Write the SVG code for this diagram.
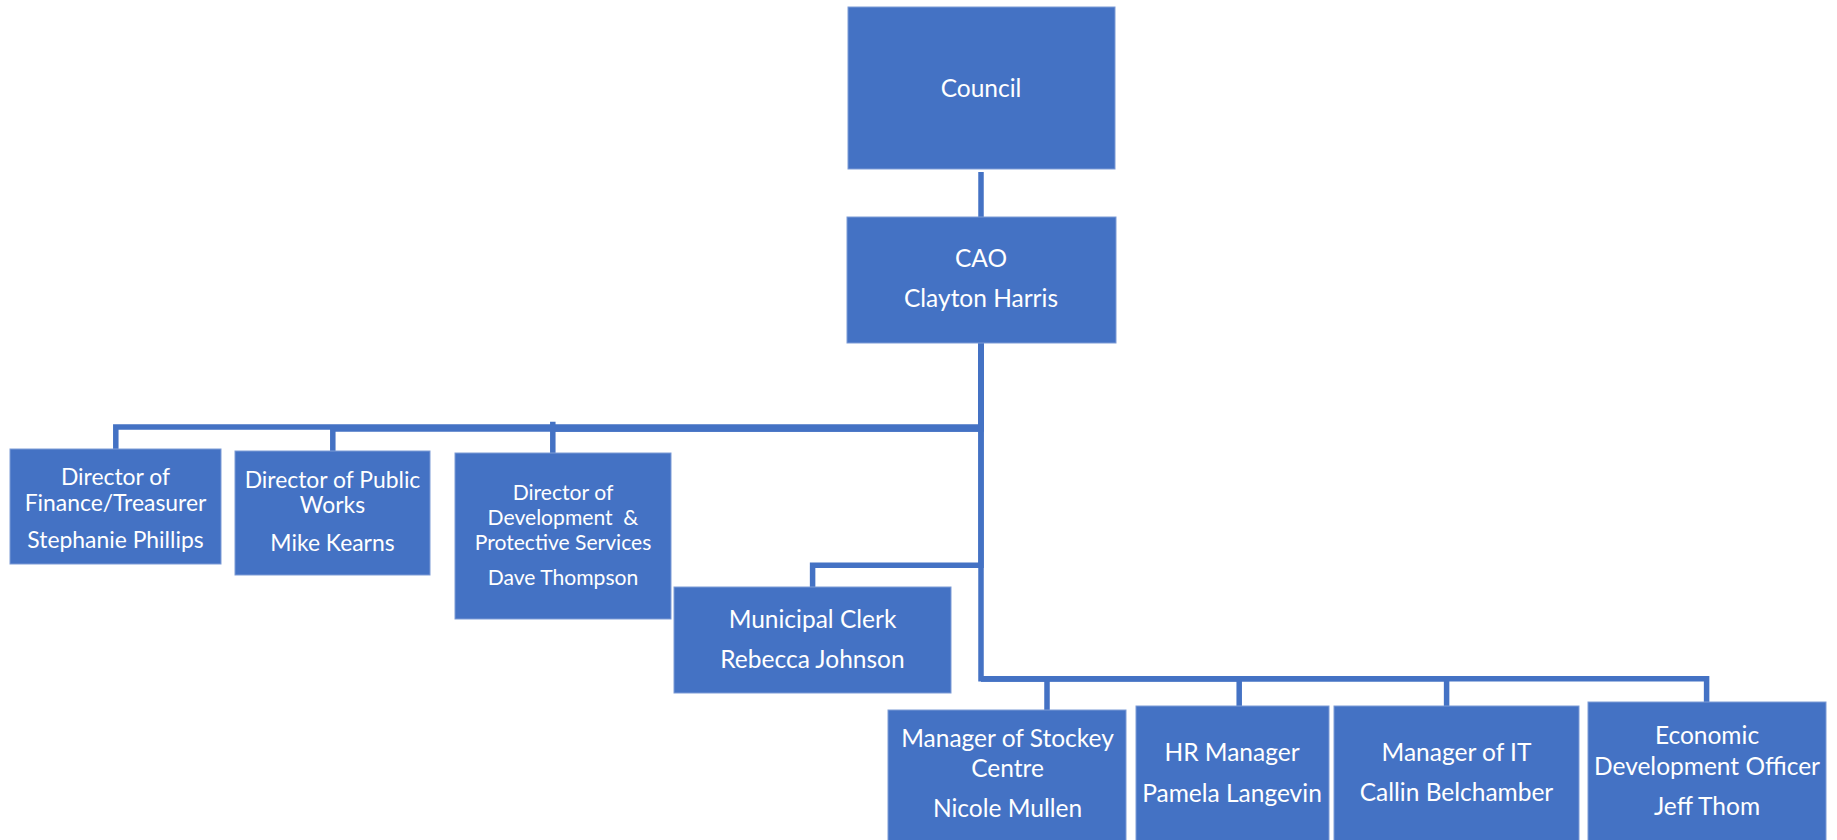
<svg xmlns="http://www.w3.org/2000/svg" width="1837" height="840" viewBox="0 0 1837 840">
<style>
.box{fill:#4472C4;stroke:#7d9bd6;stroke-width:1}
.t{font-family:Lato,"Liberation Sans",Arial,sans-serif;fill:#ffffff;text-anchor:middle;white-space:pre}
.l{font-size:24.5px}
.m{font-size:22.9px}
.s{font-size:21.1px}
.c{fill:none;stroke:#4472C4;stroke-width:5.5;stroke-linejoin:miter;stroke-linecap:butt}
</style>
<rect width="1837" height="840" fill="#ffffff"/>
<g id="connectors">
<path class="c" d="M981,172 V217"/>
<path class="c" d="M981,343 V427 H115.8 V449"/>
<path class="c" d="M981,343 V429 H332.8 V451"/>
<path class="c" d="M981,343 V429 H552.8 M552.8,421.7 V453"/>
<path class="c" d="M981,343 V565.3 H812.6 V587"/>
<path class="c" d="M981,343 V678.8 H1047 V710"/>
<path class="c" d="M981,678.8 H1239.2 V706"/>
<path class="c" d="M981,678.8 H1446.6 V706"/>
<path class="c" d="M981,678.8 H1706.6 V702"/>
</g>
<g id="council">
<rect class="box" x="848" y="7" width="267" height="162"/>
<text class="t l" x="981" y="96.5">Council</text>
</g>
<g id="cao">
<rect class="box" x="847" y="217" width="269" height="126"/>
<text class="t l" x="981" y="267">CAO</text>
<text class="t l" x="981" y="307">Clayton Harris</text>
</g>
<g id="finance">
<rect class="box" x="10" y="449" width="211" height="115"/>
<text class="t m" x="115.5" y="485">Director of</text>
<text class="t m" x="115.5" y="511">Finance/Treasurer</text>
<text class="t m" x="115.5" y="547.7">Stephanie Phillips</text>
</g>
<g id="public-works">
<rect class="box" x="235" y="451" width="195" height="124"/>
<text class="t m" x="332.5" y="488.3">Director of Public</text>
<text class="t m" x="332.5" y="513.3">Works</text>
<text class="t m" x="332.5" y="550.7">Mike Kearns</text>
</g>
<g id="development">
<rect class="box" x="455" y="453" width="216" height="166"/>
<text class="t s" x="563" y="500">Director of</text>
<text class="t s" x="563" y="525">Development  &amp;</text>
<text class="t s" x="563" y="550">Protective Services</text>
<text class="t s" x="563" y="585">Dave Thompson</text>
</g>
<g id="clerk">
<rect class="box" x="674" y="587" width="277" height="106"/>
<text class="t l" x="812.5" y="628.3">Municipal Clerk</text>
<text class="t l" x="812.5" y="668.3">Rebecca Johnson</text>
</g>
<g id="stockey">
<rect class="box" x="888" y="710" width="238" height="140"/>
<text class="t l" x="1007.5" y="747.3">Manager of Stockey</text>
<text class="t l" x="1007.5" y="777.3">Centre</text>
<text class="t l" x="1007.5" y="817.3">Nicole Mullen</text>
</g>
<g id="hr">
<rect class="box" x="1136" y="706" width="193" height="144"/>
<text class="t l" x="1232" y="760.7">HR Manager</text>
<text class="t l" x="1232" y="801.7">Pamela Langevin</text>
</g>
<g id="it">
<rect class="box" x="1334" y="706" width="245" height="144"/>
<text class="t l" x="1456.5" y="760.7">Manager of IT</text>
<text class="t l" x="1456.5" y="800.7">Callin Belchamber</text>
</g>
<g id="economic">
<rect class="box" x="1588" y="702" width="238" height="148"/>
<text class="t l" x="1707" y="744.3">Economic</text>
<text class="t l" x="1707" y="775">Development Officer</text>
<text class="t l" x="1707" y="815">Jeff Thom</text>
</g>
</svg>
